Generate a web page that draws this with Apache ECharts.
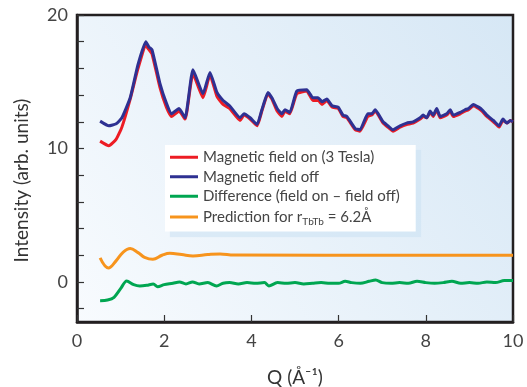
<!DOCTYPE html>
<html>
<head>
<meta charset="utf-8">
<script src="https://cdn.jsdelivr.net/npm/echarts@6/dist/echarts.min.js"></script>
<style>
html, body { margin: 0; padding: 0; background: #fff; }
#chart { width: 527px; height: 387px; }
</style>
</head>
<body>
<div id="chart"></div>
<script>
// Q values (Å^-1) shared by the two intensity curves
var qMain = [0.53, 0.73, 0.90, 1.03, 1.22, 1.40, 1.58, 1.65, 1.72, 1.90, 2.05, 2.17, 2.34, 2.48, 2.66, 2.89, 3.05, 3.21, 3.35, 3.50,
    3.74, 3.83, 3.97, 4.13, 4.24, 4.38, 4.47, 4.59, 4.70, 4.77, 4.88, 5.04, 5.27, 5.41, 5.53, 5.62, 5.73, 5.85, 5.99, 6.10,
    6.19, 6.38, 6.49, 6.67, 6.76, 6.84, 7.02, 7.13, 7.25, 7.41, 7.56, 7.71, 7.87, 7.94, 8.02, 8.10, 8.17, 8.25, 8.33, 8.48,
    8.56, 8.63, 8.79, 8.90, 8.98, 9.09, 9.21, 9.29, 9.40, 9.55, 9.68, 9.77, 9.86, 9.94, 10.0];
var fieldOff = [12.05, 11.7, 11.85, 12.3, 13.8, 16.3, 18.0, 17.6, 17.4, 14.9, 13.4, 12.6, 13.0, 12.3, 15.9, 14.1, 15.7, 14.2, 13.6, 13.2,
    12.3, 12.6, 12.3, 11.8, 12.9, 14.2, 13.8, 13.0, 12.6, 12.9, 12.7, 14.3, 14.4, 13.8, 13.8, 13.5, 13.7, 13.2, 13.1, 12.5,
    12.4, 11.5, 11.4, 12.6, 12.6, 12.9, 12.0, 11.7, 11.4, 11.7, 11.9, 12.0, 12.3, 12.5, 12.3, 12.8, 12.5, 13.0, 12.4, 12.6,
    12.9, 12.5, 12.7, 12.9, 13.0, 13.3, 13.1, 12.9, 12.5, 12.1, 11.7, 12.2, 11.9, 12.1, 12.0];
var fieldOn = [10.55, 10.2, 10.7, 11.6, 13.7, 16.0, 17.7, 17.4, 17.1, 14.6, 13.1, 12.4, 12.8, 12.2, 15.6, 13.8, 15.5, 13.9, 13.3, 13.0,
    12.1, 12.5, 12.2, 11.7, 12.8, 14.1, 13.7, 12.8, 12.4, 12.8, 12.6, 14.1, 14.3, 13.6, 13.6, 13.3, 13.6, 13.1, 13.0, 12.4,
    12.3, 11.4, 11.3, 12.4, 12.5, 12.8, 11.9, 11.6, 11.3, 11.6, 11.8, 11.9, 12.2, 12.4, 12.3, 12.7, 12.4, 12.9, 12.3, 12.5,
    12.8, 12.4, 12.6, 12.8, 12.9, 13.2, 13.0, 12.8, 12.4, 12.0, 11.6, 12.1, 11.9, 12.1, 12.0];

var qDiff = [0.53, 0.70, 0.85, 1.0, 1.14, 1.3, 1.44, 1.6, 1.75, 1.85, 2.0, 2.2, 2.35, 2.5, 2.65, 2.8, 3.0, 3.2, 3.35, 3.5,
    3.7, 3.9, 4.1, 4.3, 4.4, 4.6, 4.8, 5.0, 5.2, 5.4, 5.6, 5.8, 6.0, 6.15, 6.3, 6.5, 6.7, 6.85, 7.0, 7.2,
    7.4, 7.6, 7.8, 8.0, 8.2, 8.4, 8.6, 8.8, 9.0, 9.2, 9.4, 9.6, 9.8, 10.0];
var difference = [-1.4, -1.35, -1.15, -0.5, 0.07, -0.2, -0.3, -0.25, -0.15, -0.35, -0.2, -0.1, 0.0, -0.15, 0.0, -0.15, -0.05, -0.3, -0.1, -0.05,
    -0.15, -0.05, -0.1, -0.05, -0.3, -0.05, -0.1, -0.05, -0.15, -0.1, -0.05, -0.1, -0.1, 0.05, -0.05, -0.1, 0.05, 0.15, -0.05, -0.1,
    -0.05, -0.1, 0.05, -0.05, -0.1, -0.05, 0.05, -0.1, -0.05, -0.1, 0.0, -0.05, 0.1, 0.1];

var qPred = [0.53, 0.72, 0.9, 1.05, 1.22, 1.4, 1.55, 1.74, 1.95, 2.13, 2.4, 2.66, 3.0, 3.28, 3.6, 10.0];
var prediction = [1.8, 1.05, 1.6, 2.2, 2.5, 2.2, 1.85, 1.7, 2.0, 2.15, 2.05, 1.95, 2.05, 2.1, 2.02, 2.0];

var xTicks = [0, 2, 4, 6, 8, 10];
var yLabels = [0, 10, 20];
var yTicks = [-2, 0, 2, 4, 6, 8, 10, 12, 14, 16, 18, 20];

var names = ['Magnetic field on (3 Tesla)', 'Magnetic field off', 'Difference (field on \u2013 field off)', 'Prediction for r_TbTb = 6.2\u00c5'];

function pairs(xs, ys) {
    return xs.map(function (x, i) { return [x, ys[i]]; });
}

var font = 'Lato, "DejaVu Sans", sans-serif';
var chart = echarts.init(document.getElementById('chart'));

chart.setOption({
    animation: false,
    textStyle: { fontFamily: font },
    grid: {
        left: 77, right: 14, top: 15, bottom: 65,
        outerBoundsMode: 'none',
        show: true,
        borderColor: '#231f20',
        borderWidth: 2.5,
        backgroundColor: new echarts.graphic.LinearGradient(0, 1, 1, 0, [
            { offset: 0, color: '#f8fbfe' },
            { offset: 1, color: '#d6e7f5' }
        ])
    },
    legend: {
        orient: 'vertical',
        left: 165, top: 145,
        data: names,
        icon: 'rect',
        itemWidth: 28, itemHeight: 3,
        itemGap: 3,
        padding: [4, 16, 5, 5],
        backgroundColor: '#fff',
        shadowColor: 'rgba(205,226,244,0.6)',
        shadowOffsetX: 5, shadowOffsetY: 5, shadowBlur: 1,
        formatter: function (n) {
            return n.replace('r_TbTb', 'r{sub|TbTb}');
        },
        textStyle: {
            fontSize: 15, color: '#444', lineHeight: 16.5, fontFamily: font,
            rich: {
                sub: { fontSize: 10, color: '#444', padding: [9, 0, 0, 0], lineHeight: 12 }
            }
        }
    },
    xAxis: {
        type: 'value',
        min: 0, max: 10, interval: 2,
        name: 'Q (\u00c5\u207b\u00b9)',
        nameLocation: 'middle',
        nameGap: 46,
        nameTextStyle: { fontSize: 19, color: '#333', fontFamily: font },
        axisLine: { show: true, onZero: false, lineStyle: { color: '#231f20', width: 2.5 } },
        axisTick: { show: true, inside: true, length: 7, lineStyle: { color: '#333', width: 1.2 } },
        axisLabel: { fontSize: 18, color: '#444', margin: 10, fontFamily: font, customValues: xTicks },
        splitLine: { show: false }
    },
    yAxis: {
        type: 'value',
        min: -3, max: 20,
        name: 'Intensity (arb. units)',
        nameLocation: 'middle',
        nameGap: 46,
        nameTextStyle: { fontSize: 19, color: '#333', fontFamily: font, padding: [0, 24, 0, 0] },
        axisLine: { show: true, onZero: false, lineStyle: { color: '#231f20', width: 2.5 } },
        axisTick: { show: true, inside: true, length: 7, lineStyle: { color: '#333', width: 1.2 }, customValues: yTicks },
        axisLabel: { fontSize: 18, color: '#444', margin: 9, fontFamily: font, customValues: yLabels },
        splitLine: { show: false }
    },
    series: [
        {
            name: names[0], type: 'line', showSymbol: false, symbol: 'none',
            smooth: 0.15, color: '#ed1c24',
            lineStyle: { width: 3, color: '#ed1c24' },
            data: pairs(qMain, fieldOn)
        },
        {
            name: names[1], type: 'line', showSymbol: false, symbol: 'none',
            smooth: 0.15, color: '#2e3192',
            lineStyle: { width: 3, color: '#2e3192' },
            data: pairs(qMain, fieldOff)
        },
        {
            name: names[2], type: 'line', showSymbol: false, symbol: 'none',
            smooth: 0.3, color: '#00a651',
            lineStyle: { width: 3, color: '#00a651' },
            data: pairs(qDiff, difference)
        },
        {
            name: names[3], type: 'line', showSymbol: false, symbol: 'none',
            smooth: 0.4, color: '#f7941d',
            lineStyle: { width: 3, color: '#f7941d' },
            data: pairs(qPred, prediction)
        }
    ]
});
</script>
</body>
</html>
